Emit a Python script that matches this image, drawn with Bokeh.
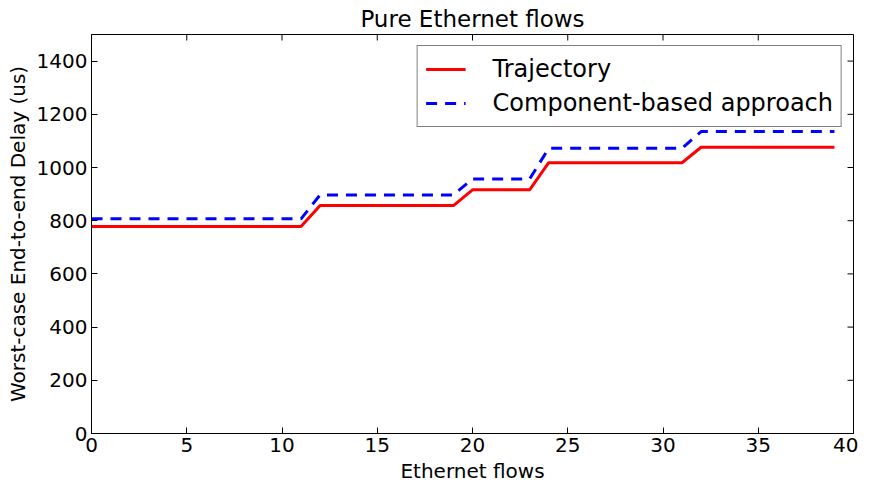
from bokeh.plotting import figure
from bokeh.models import Range1d, Legend, LegendItem, FixedTicker
from bokeh.embed import file_html
from bokeh.resources import INLINE

flows = list(range(40))
trajectory = [778]*12 + [857]*8 + [916]*4 + [1018]*8 + [1076]*8
component = [807]*12 + [897]*8 + [957]*4 + [1072]*8 + [1135]*8
x_ticks = [0, 5, 10, 15, 20, 25, 30, 35, 40]
y_ticks = [0, 200, 400, 600, 800, 1000, 1200, 1400]
x_max = 40
y_max = 1500

FONT = "DejaVu Sans"

p = figure(frame_width=762, frame_height=399, output_backend="svg", toolbar_location=None,
           x_range=Range1d(0, x_max), y_range=Range1d(0, y_max),
           title="Pure Ethernet flows",
           min_border_left=91, min_border_right=5, min_border_top=30, min_border_bottom=45)
p.title.align = "center"
p.title.text_font = FONT
p.title.text_font_size = "23px"
p.title.text_font_style = "normal"
p.title.text_color = "black"
p.title.offset = 0
p.title.standoff = 6

p.outline_line_color = "black"
p.outline_line_width = 1
p.outline_line_alpha = 1
p.grid.visible = False
p.background_fill_color = "white"
p.border_fill_color = "white"

r1 = p.line(flows, trajectory, line_color="red", line_width=3)
r2 = p.line(flows, component, line_color="blue", line_width=3, line_dash="11 8")

# inward ticks on top and right edges (matplotlib classic style)
tick_len_y = 6 * y_max / 399
tick_len_x = 6 * x_max / 762
p.segment(x0=x_ticks, y0=[y_max]*len(x_ticks), x1=x_ticks, y1=[y_max - tick_len_y]*len(x_ticks),
          line_color="black", line_width=1)
p.segment(x0=[x_max]*len(y_ticks), y0=y_ticks, x1=[x_max - tick_len_x]*len(y_ticks), y1=y_ticks,
          line_color="black", line_width=1)

for ax in p.xaxis:
    ax.ticker = FixedTicker(ticks=x_ticks)
    ax.axis_label = "Ethernet flows"
for ax in p.yaxis:
    ax.ticker = FixedTicker(ticks=y_ticks)
    ax.axis_label = "Worst-case End-to-end Delay (us)"

for ax in list(p.xaxis) + list(p.yaxis):
    ax.major_label_text_font = FONT
    ax.major_label_text_font_size = "20px"
    ax.major_label_text_color = "black"
    ax.axis_label_text_font = FONT
    ax.axis_label_text_font_size = "20px"
    ax.axis_label_text_font_style = "normal"
    ax.axis_label_text_color = "black"
    ax.major_tick_in = 6
    ax.major_tick_out = 0
    ax.minor_tick_line_color = None
    ax.axis_line_color = "black"
    ax.major_tick_line_color = "black"
    ax.major_label_standoff = 4
    ax.axis_label_standoff = 4

legend = Legend(items=[LegendItem(label="Trajectory", renderers=[r1]),
                       LegendItem(label="Component-based approach", renderers=[r2])],
                location="top_right")
legend.label_text_font = FONT
legend.label_text_font_size = "24px"
legend.label_text_color = "black"
legend.border_line_color = "black"
legend.border_line_width = 1.5
legend.glyph_width = 40
legend.label_standoff = 27
legend.padding = 8
legend.spacing = 4
legend.margin = 11
legend.label_height = 30
legend.glyph_height = 30
p.add_layout(legend)

open("out.html", "w").write(file_html(p, INLINE))
